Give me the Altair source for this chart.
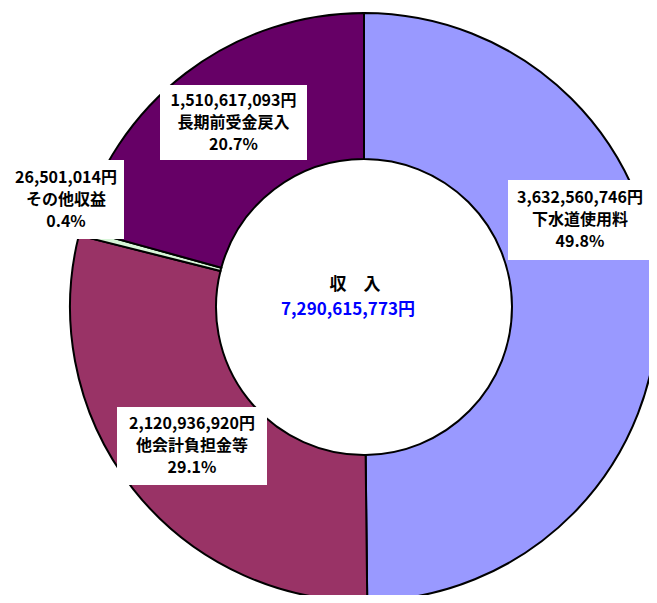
import altair as alt
import pandas as pd

# ---- data ----
categories = ["下水道使用料", "他会計負担金等", "その他収益", "長期前受金戻入"]
amounts = [3632560746, 2120936920, 26501014, 1510617093]
amount_labels = ["3,632,560,746円", "2,120,936,920円", "26,501,014円", "1,510,617,093円"]
percent_labels = ["49.8%", "29.1%", "0.4%", "20.7%"]
center_title = "収　入"
center_total = "7,290,615,773円"

# ---- style / layout (not data) ----
colors = ["#9999FF", "#993366", "#D8F5D8", "#660066"]
W, H = 641, 587
CX, CY = 356, 299
R_OUT, R_IN = 294, 148
# label boxes: x0, y0, x1, y1 (view px)
box_pos = [(500, 172, 644, 252), (109, 399, 259, 477), (-8, 152, 116, 231), (152, 77, 299, 152)]
line_gap = 22
FONT = "Noto Sans CJK JP"

pie_df = pd.DataFrame({"category": categories, "amount": amounts, "idx": range(len(categories))})

arcs = alt.Chart(pie_df).mark_arc(
    radius=R_OUT, radius2=R_IN, stroke="black", strokeWidth=2
).encode(
    theta=alt.Theta("amount:Q", stack=True),
    color=alt.Color("category:N", scale=alt.Scale(domain=categories, range=colors), legend=None),
    order=alt.Order("idx:Q"),
    x=alt.value(CX),
    y=alt.value(CY),
)

box_df = pd.DataFrame({
    "x0": [b[0] for b in box_pos], "y0": [b[1] for b in box_pos],
    "x1": [b[2] for b in box_pos], "y1": [b[3] for b in box_pos],
})
boxes = alt.Chart(box_df).mark_rect(color="white").encode(
    x=alt.X("x0:Q", scale=None), x2="x1:Q",
    y=alt.Y("y0:Q", scale=None), y2="y1:Q",
)

rows = []
for i, cat in enumerate(categories):
    x0, y0, x1, y1 = box_pos[i]
    cx = (max(x0, 0) + x1) / 2 if x0 < 0 else (x0 + x1) / 2
    cy = (y0 + y1) / 2
    for j, t in enumerate([amount_labels[i], cat, percent_labels[i]]):
        rows.append({"tx": cx, "ty": cy + (j - 1) * line_gap, "t": t})
text_df = pd.DataFrame(rows)
texts = alt.Chart(text_df).mark_text(
    font=FONT, fontSize=16, fontWeight="bold", color="black", baseline="middle", align="center"
).encode(
    x=alt.X("tx:Q", scale=None), y=alt.Y("ty:Q", scale=None), text="t:N"
)

center_df = pd.DataFrame({
    "tx": [CX - 9, CX - 16], "ty": [CY - 22, CY + 3],
    "t": [center_title, center_total], "c": ["black", "blue"],
})
center = alt.Chart(center_df).mark_text(
    font=FONT, fontSize=17, fontWeight="bold", baseline="middle", align="center"
).encode(
    x=alt.X("tx:Q", scale=None), y=alt.Y("ty:Q", scale=None), text="t:N",
    color=alt.Color("c:N", scale=None),
)

chart = alt.layer(arcs, boxes, texts, center).properties(
    width=W, height=H, padding=0, background="white",
    autosize=alt.AutoSizeParams(type="none"),
).configure_view(stroke=None)

chart.save("out.html", embed_options={"renderer": "svg", "actions": False})
